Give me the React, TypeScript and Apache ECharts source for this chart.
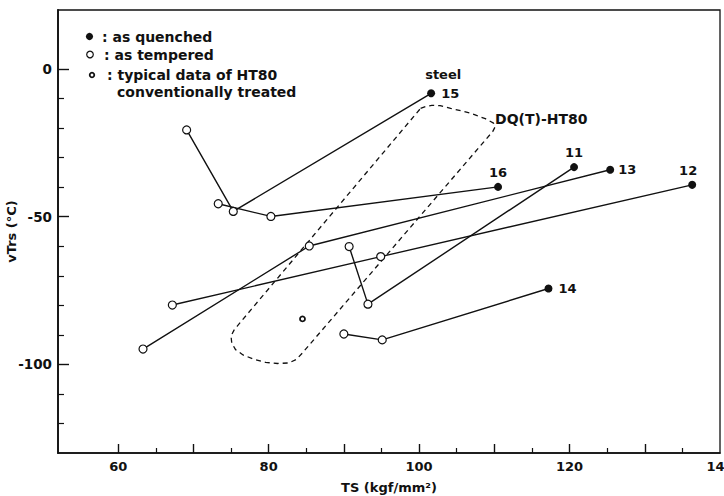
import React, { useEffect, useRef } from "react";
import * as echarts from "echarts";

// ---- data ----
const steelNames = ["15", "16", "11", "13", "12", "14"];
// as-quenched points (filled), TS (kgf/mm2), vTrs (°C)
const quenched: number[][] = [
  [101.6, -8.2],
  [110.5, -39.9],
  [120.6, -33.2],
  [125.4, -34.1],
  [136.3, -39.2],
  [117.2, -74.3],
];
// first tempered state
const tempered1: number[][] = [
  [75.3, -48.2],
  [80.3, -49.9],
  [93.2, -79.6],
  [85.4, -59.9],
  [94.9, -63.5],
  [95.1, -91.7],
];
// second tempered state
const tempered2: number[][] = [
  [69.1, -20.6],
  [73.3, -45.6],
  [90.7, -60.1],
  [63.3, -94.8],
  [67.2, -79.9],
  [90.0, -89.7],
];
// typical data of HT80 conventionally treated
const typicalHT80: number[][] = [[84.5, -84.6]];
// outline of the DQ(T)-HT80 band
const dqRegion: number[][] = [
  [100.2, -13.3], [101.0, -12.6], [101.7, -12.3], [102.8, -12.4], [104.2, -13.3],
  [106.8, -14.9], [108.8, -16.8], [109.9, -18.3], [110.1, -19.6], [109.8, -21.1],
  [84.5, -96.1], [83.7, -98.3], [82.7, -99.5], [81.2, -99.7], [79.6, -99.3],
  [78.0, -98.2], [76.6, -96.8], [75.6, -95.0], [75.1, -92.8], [75.0, -90.4],
  [75.4, -88.4], [75.8, -87.1], [100.2, -13.3],
];
const annotationTexts = ["steel", "DQ(T)-HT80"];
const annotationPoints: number[][] = [
  [103.2, -1.9],
  [110.1, -17.0],
];
// axis ticks / labels
const xLabelValues = [60, 80, 100, 120, 140];
const xMajorTicks = [60, 70, 80, 90, 100, 110, 120, 130];
const xMinorTicks = [65, 75, 85, 95, 105, 115, 125, 135];
const yLabelValues = [-100, -50, 0];
const yMajorTicks = [-100, -50, 0];
const yMinorTicks = [-120, -110, -90, -80, -70, -60, -40, -30, -20, -10];

// label placement for the steel numbers (style, not data)
const numberPlacement: any[] = [
  { position: "right", distance: 6 },
  { position: "top", distance: 4 },
  { position: "top", distance: 4 },
  { position: "right", distance: 4 },
  { position: "top", distance: 4, offset: [-4, 0] },
  { position: "right", distance: 6 },
];

const FONT = "DejaVu Sans";
const INK = "#111";

export default function App() {
  const ref = useRef<HTMLDivElement>(null);
  useEffect(() => {
    if (!ref.current) return;
    const chart = echarts.init(ref.current, undefined, { renderer: "svg" });

    const lineSeries = steelNames.map((name, i) => ({
      type: "line",
      name: "steel " + name,
      data: [quenched[i], tempered1[i], tempered2[i]],
      symbol: "none",
      lineStyle: { color: INK, width: 1.4 },
      z: 2,
      silent: true,
    }));

    const baseText = { fontFamily: FONT, fontWeight: "bold", color: INK };
    const legendFont = `bold 14px '${FONT}'`;

    const option: any = {
      animation: false,
      backgroundColor: "#fff",
      grid: {
        left: 58,
        right: 4,
        top: 10,
        bottom: 43,
        outerBoundsMode: "none",
        containLabel: false,
        show: true,
        borderColor: INK,
        borderWidth: 1.3,
        backgroundColor: "transparent",
      },
      xAxis: [
        {
          type: "value",
          min: 52,
          max: 140,
          position: "bottom",
          name: "TS (kgf/mm²)",
          nameLocation: "middle",
          nameGap: 28,
          nameMoveOverlap: false,
          nameTextStyle: { ...baseText, fontSize: 13 },
          axisLine: { show: true, onZero: false, lineStyle: { color: INK, width: 1.6 } },
          axisTick: {
            show: true,
            inside: true,
            length: 9,
            customValues: xMajorTicks,
            lineStyle: { color: INK, width: 1.4 },
          },
          axisLabel: {
            customValues: xLabelValues,
            margin: 7,
            hideOverlap: false,
            ...baseText,
            fontSize: 13,
          },
          splitLine: { show: false },
        },
        {
          type: "value",
          min: 52,
          max: 140,
          position: "bottom",
          axisLine: { show: false, onZero: false },
          axisTick: {
            show: true,
            inside: true,
            length: 5,
            customValues: xMinorTicks,
            lineStyle: { color: INK, width: 1.2 },
          },
          axisLabel: { show: false },
          splitLine: { show: false },
        },
      ],
      yAxis: [
        {
          type: "value",
          min: -130,
          max: 20,
          position: "left",
          name: "vTrs (°C)",
          nameLocation: "middle",
          nameGap: 40,
          nameMoveOverlap: false,
          nameTextStyle: { ...baseText, fontSize: 13 },
          axisLine: { show: true, onZero: false, lineStyle: { color: INK, width: 1.8 } },
          axisTick: {
            show: true,
            inside: true,
            length: 11,
            customValues: yMajorTicks,
            lineStyle: { color: INK, width: 1.4 },
          },
          axisLabel: {
            customValues: yLabelValues,
            margin: 6,
            ...baseText,
            fontSize: 13.5,
          },
          splitLine: { show: false },
        },
        {
          type: "value",
          min: -130,
          max: 20,
          position: "left",
          axisLine: { show: false, onZero: false },
          axisTick: {
            show: true,
            inside: true,
            length: 6,
            customValues: yMinorTicks,
            lineStyle: { color: INK, width: 1.2 },
          },
          axisLabel: { show: false },
          splitLine: { show: false },
        },
      ],
      series: [
        {
          type: "line",
          name: "DQ(T)-HT80",
          data: dqRegion,
          symbol: "none",
          smooth: false,
          lineStyle: { color: INK, width: 1.3, type: [5, 4] },
          z: 1,
          silent: true,
        },
        ...lineSeries,
        {
          type: "scatter",
          name: "as tempered",
          data: [...tempered1, ...tempered2],
          symbol: "circle",
          symbolSize: 8,
          itemStyle: { color: "#fff", borderColor: INK, borderWidth: 1.2, opacity: 1 },
          z: 3,
          silent: true,
        },
        {
          type: "scatter",
          name: "as quenched",
          data: quenched.map((p, i) => ({
            value: p,
            label: {
              show: true,
              formatter: steelNames[i],
              ...baseText,
              fontSize: 13,
              ...numberPlacement[i],
            },
          })),
          symbol: "circle",
          symbolSize: 8,
          itemStyle: { color: INK, opacity: 1 },
          z: 4,
          silent: true,
        },
        {
          type: "scatter",
          name: "typical data of HT80 conventionally treated",
          data: typicalHT80,
          symbol: "circle",
          symbolSize: 5,
          itemStyle: { color: "#fff", borderColor: INK, borderWidth: 1.8, opacity: 1 },
          z: 4,
          silent: true,
        },
        {
          type: "scatter",
          name: "annotations",
          data: annotationPoints.map((p, i) => ({
            value: p,
            label: {
              show: true,
              formatter: annotationTexts[i],
              ...baseText,
              textBorderWidth: 0,
              fontSize: i === 0 ? 13 : 14,
              position: i === 0 ? "inside" : "right",
              distance: 0,
            },
          })),
          symbol: "circle",
          symbolSize: 0,
          itemStyle: { color: INK, opacity: 1 },
          z: 5,
          silent: true,
        },
      ],
      graphic: [
        { type: "circle", silent: true, shape: { cx: 89.5, cy: 36.5, r: 3.6 }, style: { fill: INK } },
        {
          type: "text",
          silent: true,
          x: 102,
          y: 36.5,
          style: { text: ": as quenched", font: legendFont, fill: INK, verticalAlign: "middle" },
        },
        {
          type: "circle",
          silent: true,
          shape: { cx: 90, cy: 54.5, r: 3.3 },
          style: { fill: "#fff", stroke: INK, lineWidth: 1.2 },
        },
        {
          type: "text",
          silent: true,
          x: 104,
          y: 54.5,
          style: { text: ": as tempered", font: legendFont, fill: INK, verticalAlign: "middle" },
        },
        {
          type: "circle",
          silent: true,
          shape: { cx: 92, cy: 75, r: 2.3 },
          style: { fill: "#fff", stroke: INK, lineWidth: 1.8 },
        },
        {
          type: "text",
          silent: true,
          x: 107,
          y: 75,
          style: { text: ": typical data of HT80", font: legendFont, fill: INK, verticalAlign: "middle" },
        },
        {
          type: "text",
          silent: true,
          x: 117,
          y: 92,
          style: { text: "conventionally treated", font: legendFont, fill: INK, verticalAlign: "middle" },
        },
      ],
    };

    chart.setOption(option);
    return () => chart.dispose();
  }, []);

  return (
    <div
      ref={ref}
      style={{ position: "fixed", left: 0, top: 0, width: 724, height: 496, background: "#fff" }}
    />
  );
}
